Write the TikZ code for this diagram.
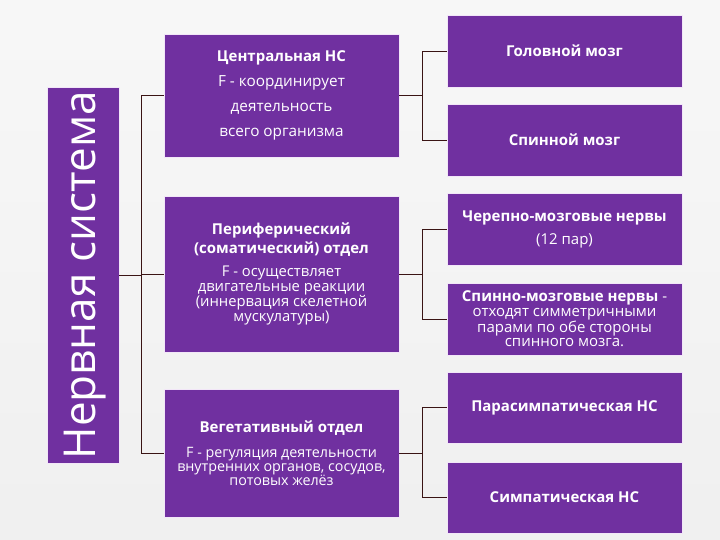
\documentclass[tikz,border=0pt]{standalone}
\usepackage{fontspec}
\setmainfont{Open Sans}
\newfontfamily\titlefont{Open Sans}
\definecolor{boxpurple}{HTML}{7030A0}
\definecolor{linec}{HTML}{3A1414}
\definecolor{boxedge}{HTML}{F2E6F8}
\newcommand{\ttl}[1]{{\fontsize{15}{18}\selectfont\bfseries #1}}
\begin{document}
\begin{tikzpicture}[x=1pt,y=-1pt,
  box/.style={fill=boxpurple, draw=boxedge, line width=0.7pt, inner sep=0pt,
    text=white, align=center, minimum width=235pt},
  conn/.style={draw=linec, line width=0.9pt}
  ]
\shade[top color=white!94!gray, bottom color=white!88!gray] (0,0) rectangle (720,540);
\useasboundingbox (0,0) rectangle (720,540);

% left title box
\node[box, minimum width=72pt, minimum height=376pt] (L) at (83,275) {};
\node[rotate=90, anchor=base, text=white, inner sep=0pt,
  font=\titlefont\fontsize{44}{44}\selectfont] (Lt) at (95,275) {Нервная система};

% middle boxes
\node[box, minimum height=123pt, font=\fontsize{15.3}{25}\selectfont] (M1) at (281.5,95.5)
  {\ttl{Центральная НС}\\F - координирует\\деятельность\\всего организма};
\node[box, minimum height=156pt, font=\fontsize{14.8}{15}\selectfont] (M2) at (281.5,274)
  {\ttl{Периферический}\\[2pt]\ttl{(соматический) отдел}\\[8pt]F - осуществляет\\двигательные реакции\\(иннервация скелетной\\мускулатуры)};
\node[box, minimum height=128pt, font=\fontsize{14.3}{14}\selectfont] (M3) at (281.5,453)
  {\ttl{Вегетативный отдел}\\[11pt]F - регуляция деятельности\\внутренних органов, сосудов,\\потовых желёз};

% right boxes
\node[box, minimum height=72pt] (R1) at (564.5,51) {\ttl{Головной мозг}};
\node[box, minimum height=72pt] (R2) at (564.5,140) {\ttl{Спинной мозг}};
\node[box, minimum height=72pt, font=\fontsize{15}{15}\selectfont] (R3) at (564.5,229)
  {\ttl{Черепно-мозговые нервы}\\[8pt](12 пар)};
\node[box, minimum height=72pt, font=\fontsize{15}{14.5}\selectfont] (R4) at (564.5,319)
  {\ttl{Спинно-мозговые нервы} -\\отходят симметричными\\парами по обе стороны\\спинного мозга.};
\node[box, minimum height=71pt] (R5) at (564.5,407.5) {\ttl{Парасимпатическая НС}};
\node[box, minimum height=71pt] (R6) at (564.5,497.5) {\ttl{Симпатическая НС}};

% bracket coordinates
\coordinate (lx) at (141,0);
\coordinate (bx) at (422,0);

% left bracket
\draw[conn] (L.east) -- (L.east -| lx);
\draw[conn] (M1.west) -| (lx |- M3.west) -- (M3.west);
\draw[conn] (M2.west) -- (M2.west -| lx);

% right brackets
\draw[conn] (M1.east) -- (M1.east -| bx);
\draw[conn] (R1.west) -| (bx |- R2.west) -- (R2.west);
\draw[conn] (M2.east) -- (M2.east -| bx);
\draw[conn] (R3.west) -| (bx |- R4.west) -- (R4.west);
\draw[conn] (M3.east) -- (M3.east -| bx);
\draw[conn] (R5.west) -| (bx |- R6.west) -- (R6.west);
\end{tikzpicture}
\end{document}
